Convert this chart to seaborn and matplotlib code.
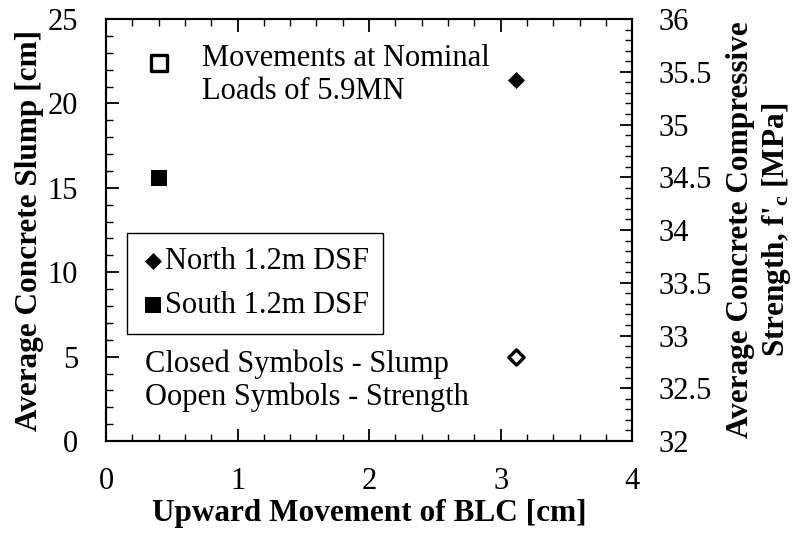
import numpy as np
import pandas as pd
import matplotlib
matplotlib.use("Agg")
import matplotlib.pyplot as plt
from matplotlib.ticker import MultipleLocator
import seaborn as sns

# Values.
sites = ["North 1.2m DSF", "South 1.2m DSF"]
movement = [3.12, 0.40]          # upward movement of BLC [cm]
slump = [21.4, 15.6]             # closed symbols, left axis [cm]
strength = [32.8, 35.58]         # open symbols, right axis [MPa]
markers = ["D", "s"]

df = pd.DataFrame({"site": sites, "movement": movement,
                   "slump": slump, "strength": strength})

sns.set_style("ticks")
plt.rcParams["font.family"] = ["Liberation Serif", "DejaVu Serif"]
plt.rcParams["mathtext.fontset"] = "custom"
plt.rcParams["mathtext.bf"] = "Liberation Serif:bold"
plt.rcParams["mathtext.rm"] = "Liberation Serif"
plt.rcParams["text.color"] = "black"
plt.rcParams["axes.labelcolor"] = "black"
plt.rcParams["xtick.color"] = "black"
plt.rcParams["ytick.color"] = "black"

FS = 22
LFS = 22.5

fig = plt.figure(figsize=(7.96, 5.41), dpi=100)
ax = fig.add_axes([0.1332, 0.1848, 0.661, 0.78])
ax2 = ax.twinx()

# Closed symbols: slump.
for i, row in df.iterrows():
    sns.scatterplot(x=[row["movement"]], y=[row["slump"]], ax=ax,
                    marker=markers[i], color="black", edgecolor="black",
                    s=130 if markers[i] == "s" else 75, linewidth=0,
                    label=row["site"], zorder=3)

# Open symbols: strength.
for i, row in df.iterrows():
    sns.scatterplot(x=[row["movement"]], y=[row["strength"]], ax=ax2,
                    marker=markers[i], facecolor="white", edgecolor="black",
                    s=120 if markers[i] == "s" else 60, linewidth=2.4,
                    legend=False, zorder=3)

ax.set_xlim(0, 4)
ax.set_ylim(0, 25)
ax2.set_ylim(32, 36)

ax.xaxis.set_major_locator(MultipleLocator(1))
ax.xaxis.set_minor_locator(MultipleLocator(0.2))
ax.yaxis.set_major_locator(MultipleLocator(5))
ax.yaxis.set_minor_locator(MultipleLocator(1))
ax2.yaxis.set_minor_locator(MultipleLocator(0.1))
ax2.set_yticks(np.arange(32, 36.01, 0.5))
ax2.set_yticklabels(["32", "32.5", "33", "33.5", "34", "34.5", "35", "35.5", "36"])

for a in (ax, ax2):
    a.tick_params(which="both", direction="in", labelsize=FS, color="black")
    a.tick_params(which="major", length=9, width=1.3)
    a.tick_params(which="minor", length=5, width=1.0)
    for sp in a.spines.values():
        sp.set_linewidth(1.5)
        sp.set_color("black")
ax.tick_params(which="both", top=True, right=False)
ax.tick_params(axis="x", pad=19)
ax.tick_params(axis="y", pad=20)
ax2.tick_params(axis="y", pad=19)

ax.set_xlabel("Upward Movement of BLC [cm]", fontsize=LFS, fontweight="bold",
              labelpad=2)
ax.set_ylabel("Average Concrete Slump [cm]", fontsize=LFS, fontweight="bold",
              labelpad=3)
ax2.set_ylabel("Average Concrete Compressive\nStrength, f'$\\mathbf{_c}$ [MPa]",
               fontsize=LFS, fontweight="bold", rotation=90, labelpad=10,
               linespacing=1.2)

leg = ax.legend(loc="upper left", bbox_to_anchor=(0.04, 0.493), fontsize=FS,
                frameon=True, fancybox=False, handletextpad=0.0,
                handlelength=0.8, borderpad=0.45, labelspacing=0.5,
                borderaxespad=0)
leg.get_frame().set_edgecolor("black")
leg.get_frame().set_linewidth(1.0)
leg.get_frame().set_alpha(1)

ax.text(0.1825, 0.94, "Movements at Nominal\nLoads of 5.9MN", transform=ax.transAxes,
        fontsize=FS, va="top", ha="left", linespacing=1.15)
ax.text(0.074, 0.216, "Closed Symbols - Slump\nOopen Symbols - Strength",
        transform=ax.transAxes, fontsize=FS, va="top", ha="left",
        linespacing=1.15)

fig.savefig("out.png", dpi=100)
